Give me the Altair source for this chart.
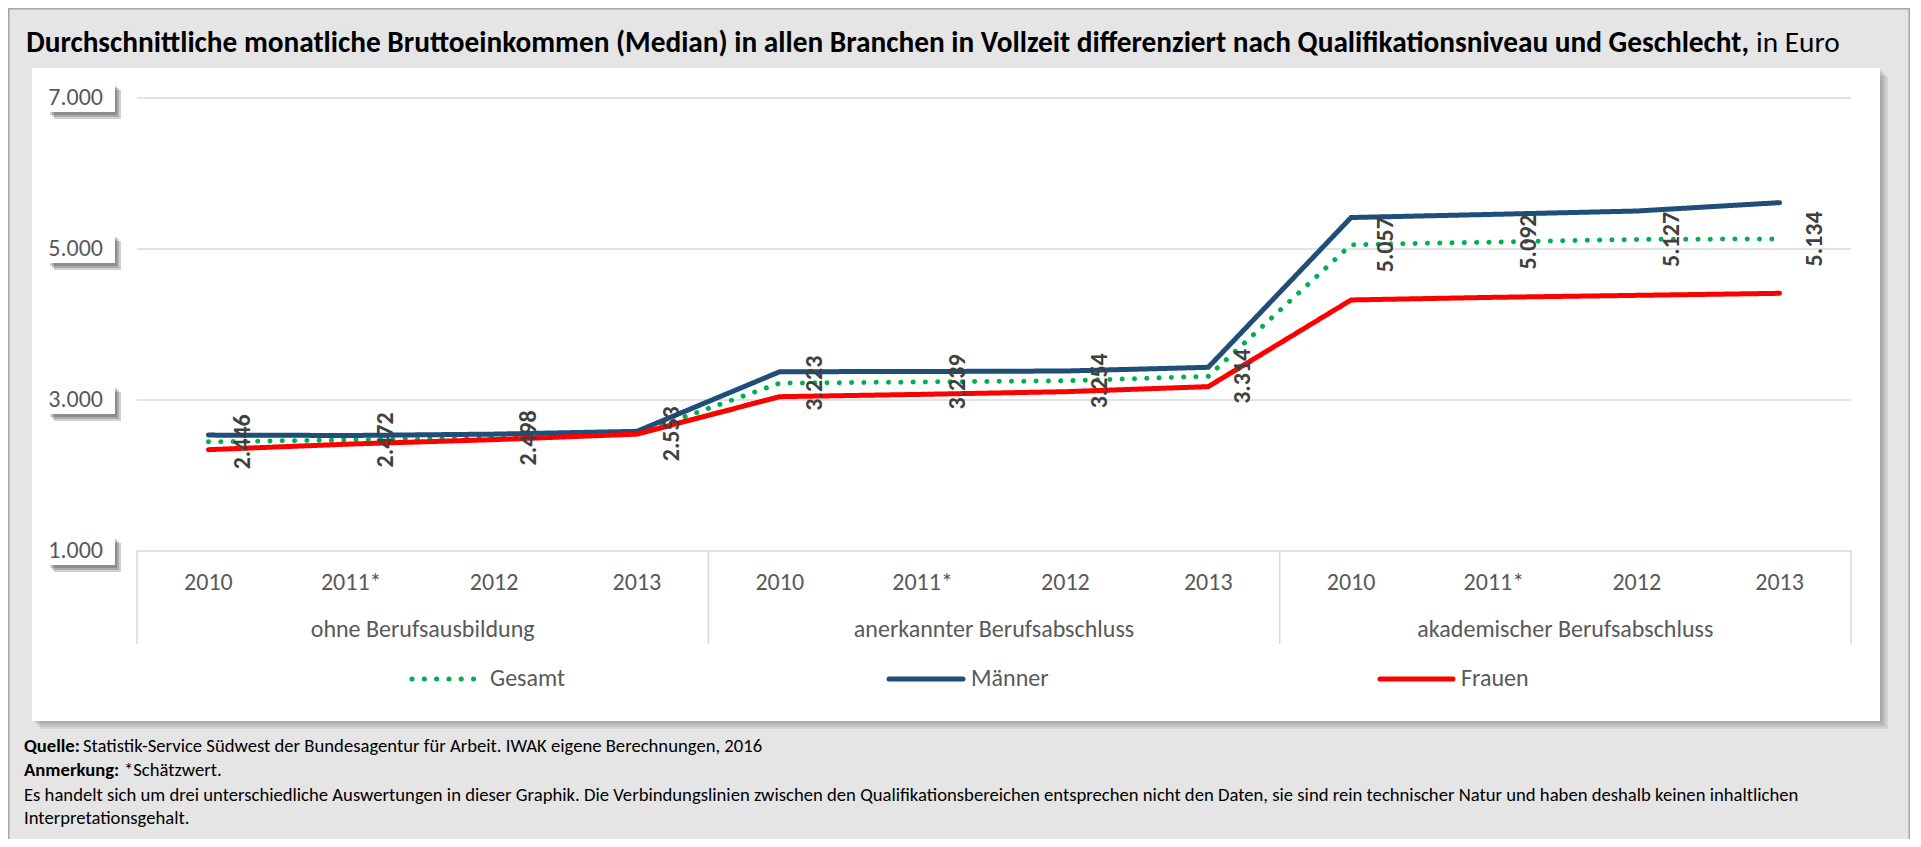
import altair as alt
import pandas as pd

# ---------------- data ----------------
groups = ["ohne Berufsausbildung", "anerkannter Berufsabschluss", "akademischer Berufsabschluss"]
years = ["2010", "2011*", "2012", "2013"]
series = ["Gesamt", "Männer", "Frauen"]
gesamt = [2446, 2472, 2498, 2553, 3223, 3239, 3254, 3314, 5057, 5092, 5127, 5134]
maenner = [2535, 2530, 2548, 2585, 3375, 3377, 3384, 3433, 5417, 5459, 5503, 5614]
frauen = [2342, 2417, 2475, 2548, 3044, 3075, 3110, 3177, 4325, 4360, 4386, 4413]
y_ticks = [1000, 3000, 5000, 7000]

title_bold = ("Durchschnittliche monatliche Bruttoeinkommen (Median) in allen Branchen in Vollzeit "
              "differenziert nach Qualifikationsniveau und Geschlecht,")
title_rest = "in Euro"
source_bold = "Quelle:"
source_text = "Statistik-Service Südwest der Bundesagentur für Arbeit. IWAK eigene Berechnungen, 2016"
note_bold = "Anmerkung:"
note_text = "*Schätzwert."
remark_1 = ("Es handelt sich um drei unterschiedliche Auswertungen in dieser Graphik. Die Verbindungslinien "
            "zwischen den Qualifikationsbereichen entsprechen nicht den Daten, sie sind rein technischer "
            "Natur und haben deshalb keinen inhaltlichen")
remark_2 = "Interpretationsgehalt."

# ---------------- styles ----------------
colors = ["#00b050", "#1f4e79", "#ff0000"]
dashes = [[0.1, 12.2], [1, 0], [1, 0]]
FONT = "Carlito, Calibri, 'Open Sans', sans-serif"
GRAY_TXT = "#595959"
GRID = "#d9d9d9"
W, H = 1714, 453

# ---------------- tables ----------------
n_per = len(years)
cats = [(g, y) for g in groups for y in years]
rows = []
for s, vals in zip(series, [gesamt, maenner, frauen]):
    for i, ((g, y), v) in enumerate(zip(cats, vals)):
        rows.append({"pos": i, "group": g, "year": y, "series": s, "value": v})
df = pd.DataFrame(rows)
df_g = df[df.series == "Gesamt"].copy()

df_ticks = pd.DataFrame({"v": y_ticks})
df_groups = pd.DataFrame({"group": groups, "c": [k * n_per + (n_per - 1) / 2 for k in range(len(groups))]})
df_bounds = pd.DataFrame({"b": [k * n_per - 0.5 for k in range(len(groups) + 1)]})

xscale = alt.Scale(domain=[-0.5, len(cats) - 0.5], nice=False, zero=False)
yscale = alt.Scale(domain=[y_ticks[0], y_ticks[-1]], nice=False, zero=False)
px_per_unit = H / (y_ticks[-1] - y_ticks[0])
DOT_FMT = "replace(format(datum.{f}, ','), ',', '.')"


def one():
    return alt.Data(values=[{"k": 0}])


def txt(text, x, y, size, weight="normal", color="#000000", align="left", baseline="middle"):
    return alt.Chart(one()).mark_text(
        text=text, font=FONT, fontSize=size, fontWeight=weight, color=color,
        align=align, baseline=baseline
    ).encode(x=alt.value(x), y=alt.value(y))


def box(x0, x1, y0, y1, **kw):
    return alt.Chart(one()).mark_rect(**kw).encode(
        x=alt.value(x0), x2=alt.value(x1), y=alt.value(y0), y2=alt.value(y1))


# background frame + white panel with soft shadow
frame = box(-128.25, 1772.25, -89.25, H + 300, filled=False, stroke="#a6a6a6", strokeWidth=1.5)
px0, px1, py0, py1 = -105, 1743, -30, 623
panel_shadow = [box(px0 + d, px1 + d, py0 + d, py1 + d, color="#000000", opacity=0.07) for d in (2, 4, 6, 8)]
panel = box(px0, px1, py0, py1, color="#ffffff")

# gridlines
grid = alt.Chart(df_ticks).mark_rule(color=GRID, strokeWidth=1.5).encode(
    y=alt.Y("v:Q", scale=yscale, axis=None), x=alt.value(0), x2=alt.value(W))

# category box separators
seps = alt.Chart(df_bounds).mark_rule(color=GRID, strokeWidth=1.5).encode(
    x=alt.X("b:Q", scale=xscale, axis=None), y=alt.value(H), y2=alt.value(H + 93))


# y label boxes with shadow
def label_box(dx, dy, **kw):
    top = 15 - dy
    bot = 14 + dy
    return alt.Chart(df_ticks).transform_calculate(
        t=f"datum.v + {top / px_per_unit}", b=f"datum.v - {bot / px_per_unit}"
    ).mark_rect(**kw).encode(
        y=alt.Y("t:Q", scale=yscale, axis=None), y2="b:Q",
        x=alt.value(-89 + dx), x2=alt.value(-22 + dx))


box_shadows = [label_box(d, d + 1, color="#000000", opacity=0.18) for d in (2, 4, 6)]
boxes = label_box(0, 0, color="#ffffff")

# y tick labels (through the y scale)
ylabels = alt.Chart(df_ticks).transform_calculate(lab=DOT_FMT.format(f="v")).mark_text(
    font=FONT, fontSize=24, color=GRAY_TXT, align="right", baseline="middle").encode(
    y=alt.Y("v:Q", scale=yscale, axis=None), x=alt.value(-34), text="lab:N")

# x category labels (through the x scale)
xlabels = alt.Chart(df_g).mark_text(font=FONT, fontSize=24, color=GRAY_TXT, baseline="middle").encode(
    x=alt.X("pos:Q", scale=xscale, axis=None), y=alt.value(H + 32), text="year:N")

# data lines
lines = alt.Chart(df).mark_line(strokeWidth=5, strokeCap="round", strokeJoin="miter").encode(
    x=alt.X("pos:Q", scale=xscale, axis=None),
    y=alt.Y("value:Q", scale=yscale, axis=None),
    color=alt.Color("series:N", scale=alt.Scale(domain=series, range=colors), legend=None),
    strokeDash=alt.StrokeDash("series:N", scale=alt.Scale(domain=series, range=dashes), legend=None),
    detail="series:N",
)

# Gesamt value labels
vlabels = alt.Chart(df_g).transform_calculate(lab=DOT_FMT.format(f="value")).mark_text(
    font=FONT, fontSize=24, fontWeight="bold", color="#404040", angle=270,
    align="center", baseline="middle", dy=35).encode(
    x=alt.X("pos:Q", scale=xscale, axis=None), y=alt.Y("value:Q", scale=yscale, axis=None),
    text="lab:N")

# group labels
glabels = alt.Chart(df_groups).mark_text(font=FONT, fontSize=24, color=GRAY_TXT,
                                         baseline="middle").encode(
    x=alt.X("c:Q", scale=xscale, axis=None), y=alt.value(H + 79), text="group:N")

# legend
leg_y = H + 128
leg_x = [(275, 345), (752, 826), (1243, 1316)]
legend = []
for s, c, d, (a, b) in zip(series, colors, dashes, leg_x):
    legend.append(alt.Chart(one()).mark_rule(color=c, strokeWidth=5, strokeCap="round", strokeDash=d).encode(
        x=alt.value(a), x2=alt.value(b), y=alt.value(leg_y)))
    legend.append(txt(s, b + 8, leg_y, 24, color=GRAY_TXT))

# title and footer
title_a = txt(title_bold, 1612, -55, 29.3, weight="bold", align="right")
title_b = txt(title_rest, 1619, -55, 29.3)
foot = [
    txt(source_bold, -113, 648, 18.67, weight="bold"),
    txt(source_text, -54, 648, 18.67),
    txt(note_bold, -113, 672, 18.67, weight="bold"),
    txt(note_text, -13, 672, 18.67),
    txt(remark_1, -113, 697, 18.67),
    txt(remark_2, -113, 720, 18.67),
]

chart = alt.layer(
    frame, *panel_shadow, panel, grid, seps, *box_shadows, boxes, ylabels, xlabels, lines, vlabels,
    glabels, *legend, title_a, title_b, *foot
).properties(
    width=W, height=H, background="#e5e5e5",
    padding={"left": 129, "top": 90, "right": 59, "bottom": 288},
    autosize=alt.AutoSizeParams(type="none"),
).configure_view(strokeWidth=0)

chart.save("out.html", embed_options={"renderer": "svg", "actions": False})
